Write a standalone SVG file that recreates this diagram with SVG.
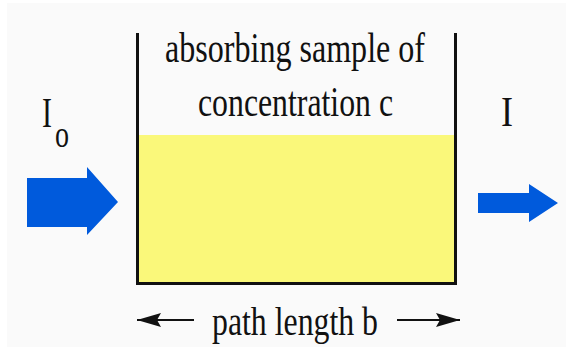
<svg xmlns="http://www.w3.org/2000/svg" width="566" height="347" viewBox="0 0 566 347">
<defs>
<style>
.t{font-family:"Liberation Serif","Times New Roman",serif;font-size:42px;fill:#111}
.wall{stroke:#111;stroke-width:3;fill:none}
.big{fill:#005ADC}
.dim{stroke:#111;stroke-width:2;fill:none}
</style>
<marker id="ah" viewBox="0 0 24 16" refX="24" refY="8" markerWidth="24" markerHeight="16" markerUnits="userSpaceOnUse" orient="auto-start-reverse">
<path d="M0,1 L24,8 L0,15 L4,8 Z" fill="#111"/>
</marker>
</defs>
<rect x="0" y="0" width="566" height="347" fill="#fff"/>
<rect x="7" y="3" width="559" height="344" fill="#fafafa"/>
<g id="sample">
<rect x="137" y="135" width="319" height="148" fill="#FAF87A"/>
<path class="wall" d="M137.5,33 V283.5 H455.5 V33"/>
<text class="t" x="165" y="62" textLength="260" lengthAdjust="spacingAndGlyphs">absorbing sample of</text>
<text class="t" x="198" y="116" textLength="195" lengthAdjust="spacingAndGlyphs">concentration c</text>
</g>
<g id="incident">
<path class="big" d="M27,178 H87 V167 L118,202 L87,235 V227 H27 Z"/>
<text class="t" x="42" y="127" textLength="10" lengthAdjust="spacingAndGlyphs">I</text>
<text class="t" x="55" y="147" style="font-size:38px" textLength="14" lengthAdjust="spacingAndGlyphs">o</text>
</g>
<g id="transmitted">
<path class="big" d="M478,193 H529 V184 L558,203 L529,222 V213 H478 Z"/>
<text class="t" x="501" y="126" textLength="12" lengthAdjust="spacingAndGlyphs">I</text>
</g>
<g id="connectors">
<line class="dim" x1="194" y1="320" x2="137" y2="320" marker-end="url(#ah)"/>
<line class="dim" x1="397" y1="320" x2="460" y2="320" marker-end="url(#ah)"/>
</g>
<g id="pathlabel">
<text class="t" x="212" y="335" style="font-size:40px" textLength="166" lengthAdjust="spacingAndGlyphs">path length b</text>
</g>
</svg>
